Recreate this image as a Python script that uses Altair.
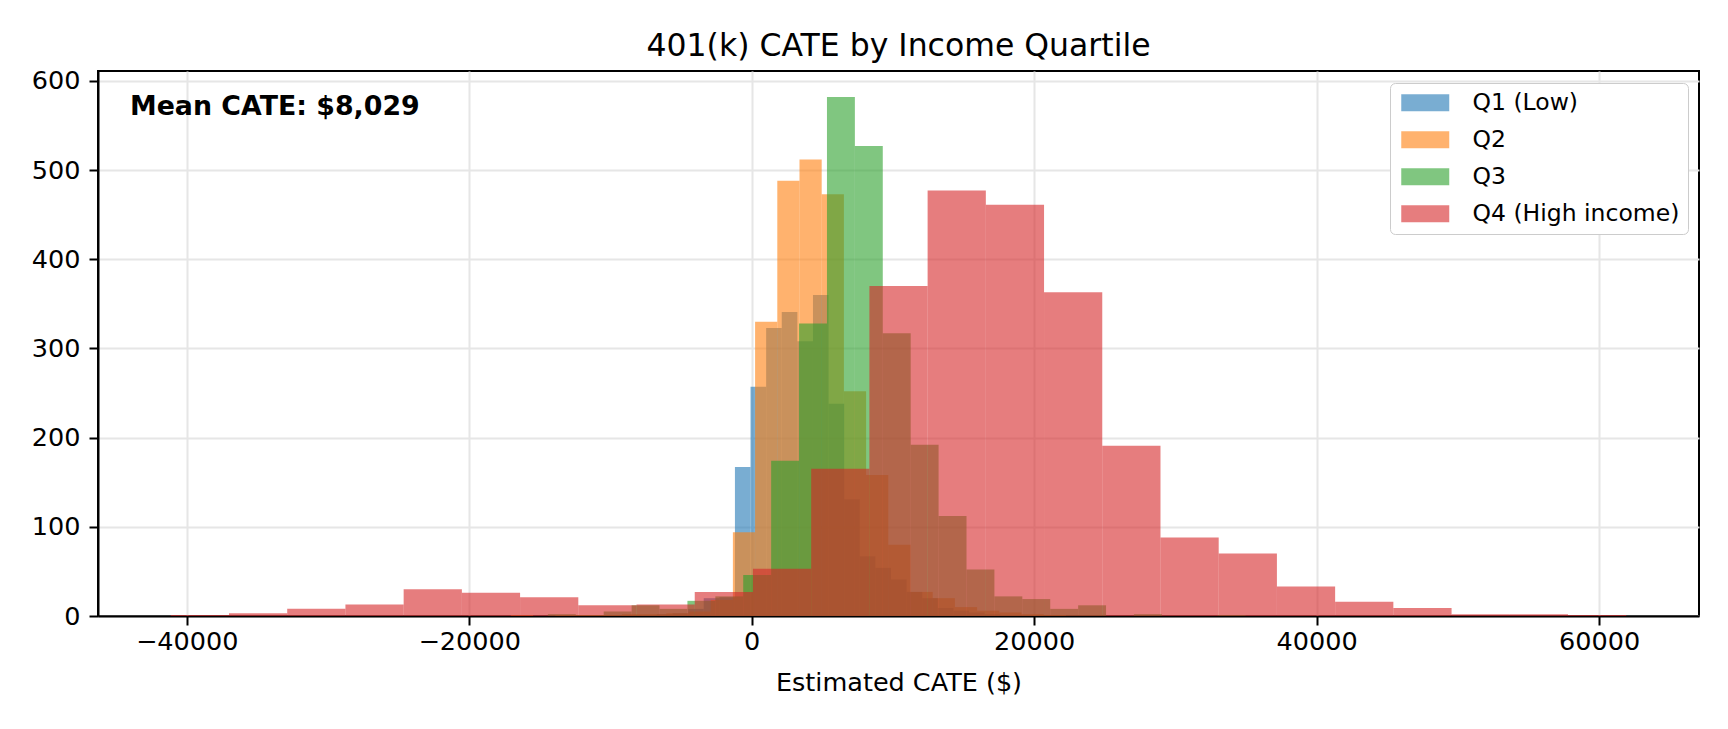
import altair as alt
import pandas as pd

# ---------------- data ----------------
QUARTILES = ["Q1 (Low)", "Q2", "Q3", "Q4 (High income)"]
COLORS = ["#1f77b4", "#ff7f0e", "#2ca02c", "#d62728"]

# first bin edge and bin width of each quartile's histogram (25 bins each)
BIN_START = [-7812, -17047, -14426, -41126]
BIN_WIDTH = [1105, 1572, 1976, 4122]

Q1_COUNTS = [1, 2, 3, 8, 20, 21, 167, 257, 323, 341, 308, 360, 238, 131, 67,
             54, 41, 27, 20, 9, 6, 4, 2, 1, 1]
Q2_COUNTS = [1, 0, 1, 1, 1, 2, 2, 3, 5, 18, 94, 330, 488, 512, 473, 252, 158,
             80, 27, 20, 10, 6, 4, 2, 1]
Q3_COUNTS = [2, 1, 5, 12, 8, 17, 22, 46, 174, 328, 582, 527, 317, 192, 112, 52,
             22, 19, 8, 12, 0, 2, 0, 0, 1]
Q4_COUNTS = [1, 3, 8, 13, 30, 26, 21, 12, 13, 27, 53, 165, 370, 477, 461, 363,
             191, 88, 70, 33, 16, 9, 2, 2, 1]
COUNTS = [Q1_COUNTS, Q2_COUNTS, Q3_COUNTS, Q4_COUNTS]

X_TICKS = [-40000, -20000, 0, 20000, 40000, 60000]
Y_TICKS = [0, 100, 200, 300, 400, 500, 600]
TITLE = "401(k) CATE by Income Quartile"
X_TITLE = "Estimated CATE ($)"
MEAN_LABEL = "Mean CATE: $8,029"

# ---------------- table ----------------
rows = []
for qi, (name, start, width, counts) in enumerate(zip(QUARTILES, BIN_START, BIN_WIDTH, COUNTS)):
    for i, c in enumerate(counts):
        rows.append({"q": name, "qi": qi, "x0": start + i * width,
                     "x1": start + (i + 1) * width, "count": c})
df = pd.DataFrame(rows)

xmin, xmax = df["x0"].min(), df["x1"].max()
margin = 0.05 * (xmax - xmin)
x_domain = [xmin - margin, xmax + margin]
y_domain = [0, df["count"].max() * 1.05]

FONT = "DejaVu Sans"
W, H = 1601, 545

# legend swatch: 48 x 17 px rectangle drawn from a 17 px symbol (r = 8.5 px)
SWATCH = "M-1,-1L4.647,-1L4.647,1L-1,1Z"

bars = alt.Chart(df).mark_rect(opacity=0.6, strokeWidth=0).encode(
    x=alt.X("x0:Q", scale=alt.Scale(domain=x_domain, nice=False, zero=False),
            axis=alt.Axis(values=X_TICKS, format="d", title=X_TITLE,
                          labelPadding=4, titlePadding=16)),
    x2="x1:Q",
    y=alt.Y("count:Q", scale=alt.Scale(domain=y_domain, nice=False),
            axis=alt.Axis(values=Y_TICKS, format="d", title=None)),
    y2=alt.datum(0),
    color=alt.Color("q:N", scale=alt.Scale(domain=QUARTILES, range=COLORS),
                    legend=alt.Legend(
                        orient="none", legendX=1292, legendY=12, title=None,
                        labelFont=FONT, labelFontSize=23.5, labelColor="black",
                        labelLimit=600,
                        symbolType=SWATCH,
                        symbolSize=289, symbolOpacity=0.6, symbolStrokeWidth=0,
                        labelOffset=51, rowPadding=12, padding=8,
                        fillColor="white", strokeColor="#cccccc", cornerRadius=5)),
    order=alt.Order("qi:Q"),
)

label = alt.Chart(pd.DataFrame({"t": [MEAN_LABEL]})).mark_text(
    align="left", baseline="alphabetic", font=FONT, fontSize=26.8,
    fontWeight="bold", color="black"
).encode(x=alt.value(32), y=alt.value(44), text="t:N")

chart = alt.layer(bars, label).properties(
    width=W, height=H,
    autosize=alt.AutoSizeParams(type="none"),
    padding={"left": 90, "top": 63, "right": 13, "bottom": 90},
    title=alt.TitleParams(TITLE, font=FONT, fontSize=31.5, fontWeight="normal",
                          color="black", anchor="middle", offset=6),
).configure(font=FONT).configure_view(
    stroke="black", strokeWidth=2
).configure_axis(
    zindex=1, grid=True, gridColor="#e6e6e6", gridWidth=2,
    domainColor="black", domainWidth=2, tickColor="black", tickWidth=2,
    tickSize=9, labelPadding=9, labelFont=FONT, labelFontSize=25.5,
    labelColor="black", labelFlush=False, titleFont=FONT, titleFontSize=25.5,
    titleFontWeight="normal", titleColor="black", titlePadding=8
)

chart.save("out.html", embed_options={"renderer": "svg", "actions": False})
